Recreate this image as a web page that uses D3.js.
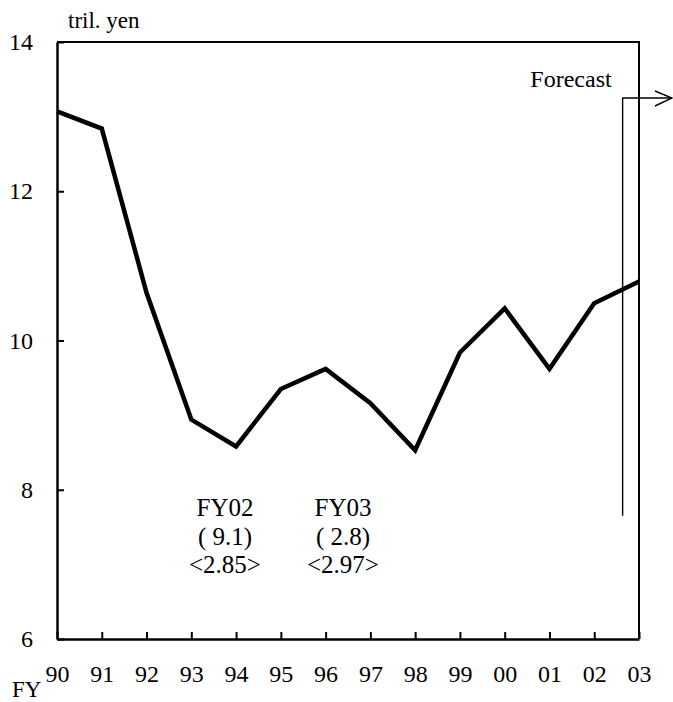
<!DOCTYPE html>
<html>
<head>
<meta charset="utf-8">
<script src="https://cdn.jsdelivr.net/npm/d3@7"></script>
<style>
  body { margin: 0; background: #fff; }
  svg { display: block; }
  text { font-family: "Liberation Serif", "Times New Roman", serif; fill: #000; }
</style>
</head>
<body>
<div id="grafico"></div>
<script>
// datos
var years = ['90', '91', '92', '93', '94', '95', '96', '97', '98', '99', '00', '01', '02', '03'];
var values = [13.07, 12.84, 10.64, 8.94, 8.58, 9.35, 9.62, 9.16, 8.53, 9.84, 10.43, 9.62, 10.50, 10.79];
var yTicks = [6, 8, 10, 12, 14];
var unitLabel = 'tril. yen';
var xTitle = 'FY';
var forecastLabel = 'Forecast';
var forecastLow = 7.65;   // valor donde termina la linea vertical del pronostico
var notesFY02 = ['FY02', '( 9.1)', '<2.85>'];
var notesFY03 = ['FY03', '( 2.8)', '<2.97>'];

var grafico = function () {
    var width = 673, height = 702;
    var mLeft = 57, mRight = 639, mTop = 42, mBottom = 639;

    var svg = d3.select('#grafico').append('svg')
        .attr('width', width)
        .attr('height', height);

    // ---------ESCALAS------------
    var scale_x = d3.scalePoint()
        .domain(years)
        .range([mLeft, mRight]);

    var scale_y = d3.scaleLinear()
        .domain([6, 14])
        .range([mBottom, mTop]);

    // marco superior y derecho
    svg.append('path')
        .attr('d', 'M' + mLeft + ',' + mTop + 'H' + mRight + 'V' + mBottom)
        .attr('fill', 'none')
        .attr('stroke', '#000')
        .attr('stroke-width', 2);

    // EJE Y, ticks hacia adentro
    var gy = svg.append('g')
        .attr('transform', 'translate(' + mLeft + ',0)')
        .call(d3.axisLeft(scale_y).tickValues(yTicks).tickSizeInner(-7).tickSizeOuter(0).tickPadding(24));
    gy.select('.domain').attr('stroke-width', 2.5);
    gy.selectAll('.tick line').attr('stroke-width', 2);
    gy.selectAll('.tick text').attr('font-size', 24).attr('font-family', '"Liberation Serif", serif');

    // EJE X
    var gx = svg.append('g')
        .attr('transform', 'translate(0,' + mBottom + ')')
        .call(d3.axisBottom(scale_x).tickSizeInner(-7).tickSizeOuter(0).tickPadding(26));
    gx.select('.domain').attr('stroke-width', 2.5);
    gx.selectAll('.tick line').attr('stroke-width', 2);
    gx.selectAll('.tick text').attr('font-size', 24).attr('font-family', '"Liberation Serif", serif');

    // unidades y titulo del eje
    svg.append('text')
        .attr('x', 68)
        .attr('y', 28)
        .attr('font-size', 23)
        .text(unitLabel);

    svg.append('text')
        .attr('x', 12)
        .attr('y', 697)
        .attr('font-size', 23)
        .text(xTitle);

    // Linea del grafico
    var line = d3.line()
        .x(function (d, i) { return scale_x(years[i]); })
        .y(function (d) { return scale_y(d); });

    svg.append('path')
        .attr('d', line(values))
        .attr('fill', 'none')
        .attr('stroke', '#000')
        .attr('stroke-width', 4.5)
        .attr('stroke-linejoin', 'miter');

    // Pronostico: linea vertical entre 02 y 03 con flecha
    var fx = (scale_x('02') + scale_x('03')) / 2 + 6;
    var fTop = 98;
    svg.append('path')
        .attr('d', 'M' + fx + ',' + scale_y(forecastLow) + 'V' + fTop + 'H' + 672)
        .attr('fill', 'none')
        .attr('stroke', '#000')
        .attr('stroke-width', 1.4);
    svg.append('path')
        .attr('d', 'M655,' + (fTop - 7) + 'L672,' + fTop + 'L655,' + (fTop + 8))
        .attr('fill', 'none')
        .attr('stroke', '#000')
        .attr('stroke-width', 1.4);

    svg.append('text')
        .attr('x', 571)
        .attr('y', 87)
        .attr('text-anchor', 'middle')
        .attr('font-size', 24)
        .text(forecastLabel);

    // Notas FY02 / FY03
    function notas(lines, cx) {
        svg.append('g').selectAll('text')
            .data(lines)
            .enter().append('text')
            .attr('x', cx)
            .attr('y', function (d, i) { return 516 + i * 28.5; })
            .attr('text-anchor', 'middle')
            .attr('font-size', 25)
            .text(function (d) { return d; });
    }
    notas(notesFY02, 225);
    notas(notesFY03, 343);
};

grafico();
</script>
</body>
</html>
